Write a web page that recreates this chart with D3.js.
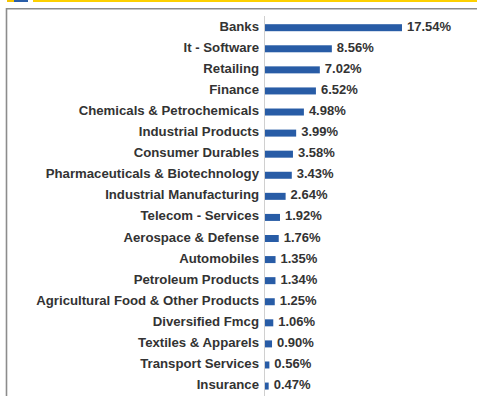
<!DOCTYPE html>
<html>
<head>
<meta charset="utf-8">
<script src="https://cdn.jsdelivr.net/npm/d3@7"></script>
<style>
  html, body { margin: 0; padding: 0; background: #fff; }
  svg { display: block; }
</style>
</head>
<body>
<script>
// Sector allocation (% of net assets)
const sectors = [
  "Banks", "It - Software", "Retailing", "Finance",
  "Chemicals & Petrochemicals", "Industrial Products", "Consumer Durables",
  "Pharmaceuticals & Biotechnology", "Industrial Manufacturing",
  "Telecom - Services", "Aerospace & Defense", "Automobiles",
  "Petroleum Products", "Agricultural Food & Other Products",
  "Diversified Fmcg", "Textiles & Apparels", "Transport Services", "Insurance"
];
const weights = [
  17.54, 8.56, 7.02, 6.52, 4.98, 3.99, 3.58, 3.43, 2.64,
  1.92, 1.76, 1.35, 1.34, 1.25, 1.06, 0.90, 0.56, 0.47
];

const W = 477, H = 396;
const svg = d3.select("body").append("svg")
  .attr("width", W).attr("height", H);

// header strip
svg.append("rect").attr("x", 7).attr("y", 0).attr("width", 7).attr("height", 2).attr("fill", "#f5c400");
svg.append("rect").attr("x", 14).attr("y", 0).attr("width", 14).attr("height", 2).attr("fill", "#2a5ea8");
svg.append("rect").attr("x", 33).attr("y", 0).attr("width", W - 33).attr("height", 2).attr("fill", "#fdd000");

// panel frame (top and left edges)
svg.append("path")
  .attr("d", `M6.5,${H} V8.75 H${W}`)
  .attr("fill", "none").attr("stroke", "#8c8c8c").attr("stroke-width", 1.6);

const x = d3.scaleLinear().domain([0, 20]).range([265, 421.2]);
const y = d3.scaleBand().domain(sectors).range([17.16, 396.6]).padding(0);
const barH = 7;

// category axis line
svg.append("line")
  .attr("x1", 264.5).attr("x2", 264.5).attr("y1", 16).attr("y2", H)
  .attr("stroke", "#d0d0d0").attr("stroke-width", 1);

const rows = svg.append("g").selectAll("g")
  .data(sectors.map((s, i) => ({ s, v: weights[i] })))
  .join("g")
  .attr("transform", d => `translate(0,${y(d.s) + y.bandwidth() / 2})`);

rows.append("rect")
  .attr("x", x(0))
  .attr("y", -barH / 2)
  .attr("width", d => x(d.v) - x(0))
  .attr("height", barH)
  .attr("fill", "#285ca6");

rows.append("text")
  .attr("x", 259)
  .attr("y", 3)
  .attr("text-anchor", "end")
  .attr("font-family", "Liberation Sans, Arial, sans-serif")
  .attr("font-weight", "bold")
  .attr("font-size", 13.2)
  .attr("fill", "#333")
  .text(d => d.s);

rows.append("text")
  .attr("x", d => x(d.v) + 5)
  .attr("y", 3)
  .attr("font-family", "Liberation Sans, Arial, sans-serif")
  .attr("font-weight", "bold")
  .attr("font-size", 13)
  .attr("fill", "#333")
  .text(d => d.v.toFixed(2) + "%");
</script>
</body>
</html>
